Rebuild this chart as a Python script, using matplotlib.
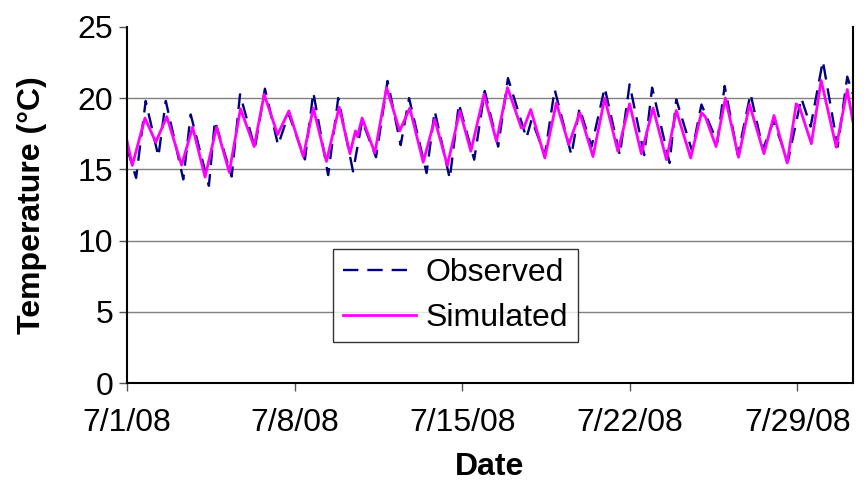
import numpy as np
import matplotlib
matplotlib.use("Agg")
import matplotlib.pyplot as plt

## Data (days since 7/1/08, temperature in degC)
obs_days = [0.0, 0.38, 0.78, 1.31, 1.62, 2.35, 2.66, 3.42, 3.67, 4.37,
            4.72, 5.34, 5.76, 6.31, 6.75, 7.43, 7.78, 8.4, 8.82, 9.44,
            9.82, 10.4, 10.88, 11.43, 11.78, 12.51, 12.85, 13.48, 13.86, 14.5,
            14.94, 15.5, 15.91, 16.68, 16.9, 17.45, 17.86, 18.56, 18.9, 19.4,
            19.95, 20.58, 20.99, 21.6, 21.93, 22.66, 22.94, 23.6, 23.99, 24.65,
            24.96, 25.51, 26.04, 26.56, 27.0, 27.6, 28.16, 28.55, 29.06, 29.68,
            30.08, 30.31]
obs_temp = [16.5, 14.4, 19.8, 15.9, 19.8, 14.3, 18.85, 13.85, 18.4, 14.5,
            20.26, 16.5, 20.66, 16.7, 18.9, 15.7, 20.4, 14.6, 20.0, 14.86,
            18.4, 15.85, 21.2, 16.7, 20.0, 14.74, 19.1, 14.34, 19.6, 15.68,
            20.5, 16.6, 21.4, 17.2, 18.5, 16.0, 20.6, 16.0, 19.3, 16.6,
            20.73, 16.0, 20.96, 16.0, 20.73, 15.45, 19.9, 16.27, 19.55, 16.9,
            20.85, 16.0, 20.3, 16.4, 18.4, 15.56, 20.0, 18.0, 22.6, 16.6,
            21.5, 20.3]

sim_days = [0.0, 0.22, 0.75, 1.2, 1.66, 2.28, 2.74, 3.26, 3.74, 4.27,
            4.74, 5.31, 5.73, 6.29, 6.76, 7.36, 7.78, 8.33, 8.86, 9.31,
            9.54, 9.62, 9.82, 10.35, 10.84, 11.39, 11.81, 12.37, 12.85, 13.38,
            13.9, 14.36, 14.91, 15.43, 15.89, 16.47, 16.58, 16.86, 17.45, 17.93,
            18.45, 18.91, 19.46, 19.95, 20.5, 20.99, 21.48, 21.97, 22.53, 22.94,
            23.54, 23.99, 24.15, 24.6, 24.99, 25.54, 26.0, 26.6, 27.02, 27.57,
            27.95, 28.1, 28.58, 28.99, 29.62, 30.08, 30.31]
sim_temp = [17.0, 15.28, 18.6, 16.9, 18.7, 15.3, 17.96, 14.46, 17.96, 14.8,
            19.25, 16.6, 20.26, 17.44, 19.1, 15.9, 19.3, 15.56, 19.37, 16.1,
            17.7, 17.3, 18.6, 16.15, 20.73, 17.7, 19.3, 15.5, 18.5, 15.28,
            19.1, 16.27, 20.26, 16.97, 20.73, 17.9, 17.95, 19.2, 15.8, 19.67,
            16.74, 18.97, 15.9, 20.0, 16.27, 19.6, 16.1, 19.3, 15.68, 19.13,
            15.8, 18.97, 18.7, 16.6, 20.0, 15.85, 19.55, 16.1, 18.78, 15.45,
            19.6, 19.3, 16.8, 21.24, 16.55, 20.6, 18.4]

tick_days = [0, 7, 14, 21, 28]
tick_labels = ["7/1/08", "7/8/08", "7/15/08", "7/22/08", "7/29/08"]

plt.rcParams['font.family'] = ['Liberation Sans', 'DejaVu Sans']

fig = plt.figure(figsize=(8.64, 4.87), dpi=100)
ax = fig.add_axes([0.147, 0.213, 0.840, 0.732])

ax.plot(obs_days, obs_temp, color='#000080', lw=1.7, dashes=(6.5, 3.8),
        label="Observed")
ax.plot(sim_days, sim_temp, color='#FF00FF', lw=2.0, label="Simulated",
        solid_joinstyle='round')

ax.set_xlim(0, 30.31)
ax.set_ylim(0, 25)
ax.set_yticks([0, 5, 10, 15, 20, 25])
ax.set_xticks(tick_days)
ax.set_xticklabels(tick_labels)
ax.tick_params(axis='both', labelsize=23, direction='out', length=6,
               width=1, color='#555555')
ax.tick_params(axis='x', pad=12)
ax.tick_params(axis='y', pad=4)

for y in [5, 10, 15, 20]:
    ax.axhline(y, color='#808080', lw=1, zorder=0)

ax.spines['top'].set_visible(False)
ax.spines['left'].set_linewidth(1.5)
ax.spines['right'].set_linewidth(1.5)
ax.spines['bottom'].set_linewidth(1.5)

ax.set_xlabel("Date", fontsize=23, fontweight='bold', labelpad=10)
ax.set_ylabel("Temperature (\u00b0C)", fontsize=23, fontweight='bold', labelpad=22)

leg = ax.legend(loc='upper left', bbox_to_anchor=(0.284, 0.377), fontsize=23,
                frameon=True, fancybox=False, handlelength=2.3,
                borderpad=0.3, labelspacing=0.45, handletextpad=0.3,
                borderaxespad=0)
leg.get_frame().set_edgecolor('black')
leg.get_frame().set_linewidth(1)

fig.savefig("out.png", dpi=100)
